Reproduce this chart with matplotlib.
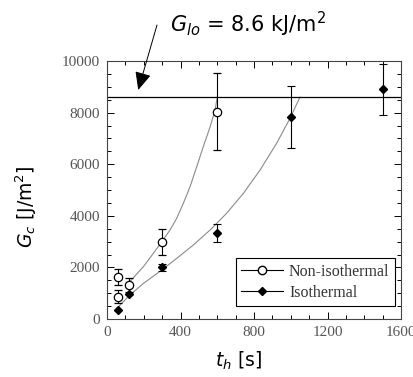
import numpy as np
import matplotlib.pyplot as plt
from matplotlib.lines import Line2D
from matplotlib.ticker import MultipleLocator

# measured points
t_non = [60, 60, 118, 300, 600]
g_non = [1620, 870, 1320, 2980, 8040]
e_non = [300, 250, 280, 500, 1500]

t_iso = [60, 120, 300, 600, 1000, 1500]
g_iso = [360, 960, 2000, 3320, 7820, 8900]
e_iso = [0, 0, 150, 350, 1200, 1000]

# fitted curves
fit_non_t = [129, 198, 252, 298, 343, 379, 415, 452, 488, 524, 561, 588, 600]
fit_non_g = [1485, 2030, 2545, 3000, 3450, 3900, 4480, 5130, 5900, 6680, 7450, 8100, 8600]
fit_iso_t = [53, 125, 198, 298, 379, 470, 561, 651, 742, 833, 923, 996, 1050]
fit_iso_g = [414, 930, 1380, 1900, 2350, 2870, 3450, 4100, 4870, 5775, 6810, 7780, 8600]

G_lo = 8600

fig = plt.figure(figsize=(4.14, 3.77), dpi=100)
ax = fig.add_axes([0.2585, 0.1538, 0.7101, 0.6843])

ax.plot(fit_non_t, fit_non_g, color='#8a8a8a', lw=0.8)
ax.plot(fit_iso_t, fit_iso_g, color='#8a8a8a', lw=0.8)
ax.axhline(G_lo, color='black', lw=0.9)

ax.errorbar(t_non, g_non, yerr=e_non, fmt='o', mfc='white', mec='black',
            ms=6, mew=0.9, ecolor='black', elinewidth=0.8, capsize=3, capthick=0.8)
ax.errorbar(t_iso, g_iso, yerr=e_iso, fmt='D', mfc='black', mec='black',
            ms=4, ecolor='black', elinewidth=0.8, capsize=3, capthick=0.8)

ax.set_xlim(0, 1600)
ax.set_ylim(0, 10000)
ax.xaxis.set_major_locator(MultipleLocator(400))
ax.xaxis.set_minor_locator(MultipleLocator(100))
ax.yaxis.set_major_locator(MultipleLocator(2000))
ax.yaxis.set_minor_locator(MultipleLocator(500))
ax.tick_params(which='both', direction='in', top=True, right=True,
               labelsize=11, labelcolor='#555555', width=0.7)
ax.tick_params(which='major', length=5, pad=5)
ax.tick_params(which='minor', length=3)
for lab in ax.get_xticklabels() + ax.get_yticklabels():
    lab.set_family('Liberation Serif')
for s in ax.spines.values():
    s.set_linewidth(0.8)
    s.set_color('#444444')

handles = [Line2D([], [], color='black', lw=0.8, marker='o', mfc='white', mec='black', ms=6),
           Line2D([], [], color='black', lw=0.8, marker='D', mfc='black', ms=4)]
leg = ax.legend(handles, ['Non-isothermal', 'Isothermal'], loc='lower right',
                bbox_to_anchor=(0.98, 0.05), borderaxespad=0, numpoints=1,
                handlelength=2.6, handletextpad=0.4, borderpad=0.35,
                labelspacing=0.3,
                fancybox=False, edgecolor='black', framealpha=1,
                prop={'family': 'Liberation Serif', 'size': 11.5})
leg.get_frame().set_linewidth(0.8)
for t in leg.get_texts():
    t.set_color('#333333')

ax.set_ylabel(r'$G_c$ [J/m$^2$]', fontsize=13.5)
ax.yaxis.set_label_coords(-0.23, 0.434)
ax.set_xlabel(r'$t_h$ [s]', fontsize=13.5)
ax.xaxis.set_label_coords(0.446, -0.12)

fig.text(170, 353, r'$G_{lo}$ = 8.6 kJ/m$^2$', transform=None, fontsize=15,
         ha='left', va='center')
ax.annotate('', xy=(170, 8880), xycoords='data',
            xytext=(157, 352), textcoords='figure pixels',
            arrowprops=dict(arrowstyle='-|>,head_length=1.1,head_width=0.5',
                            color='black', lw=0.7, shrinkA=0, shrinkB=0),
            annotation_clip=False)

fig.savefig('out.png', dpi=100)
